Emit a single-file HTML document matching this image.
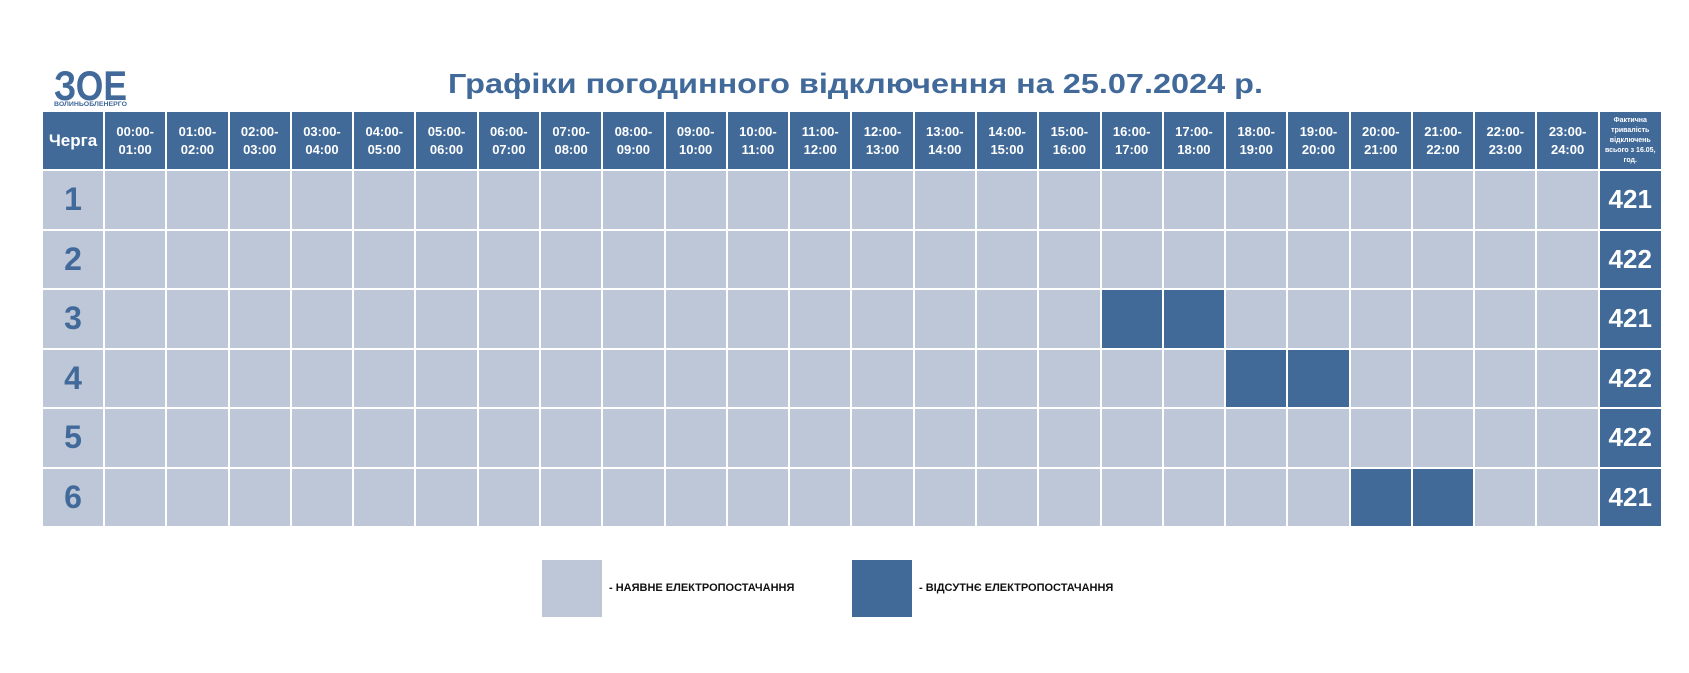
<!DOCTYPE html>
<html><head><meta charset="utf-8">
<style>
html,body{margin:0;padding:0;background:#fff;}
body{width:1689px;height:673px;position:relative;overflow:hidden;font-family:"Liberation Sans","DejaVu Sans",sans-serif;}
.grid{position:absolute;left:43px;top:112px;display:grid;grid-template-columns:60px repeat(24,60.29px) 61px;grid-template-rows:57px repeat(6,57.5px);gap:2px;}
.grid div{background:#bdc7d7;display:flex;align-items:center;justify-content:center;text-align:center;}
.grid .h{background:#416a99;color:#fff;font-weight:bold;font-size:13px;line-height:18px;}
.grid .q{font-size:17px;}
.grid .f{font-size:7px;line-height:10px;}
.grid .n{color:#41699a;font-weight:bold;font-size:32px;}
.grid .d{background:#416a99;}
.grid .t{background:#416a99;color:#fff;font-weight:bold;font-size:26px;}
.lg{position:absolute;top:560px;width:60px;height:57px;}
.lt{position:absolute;top:582px;font-size:11px;font-weight:bold;color:#111;}
</style></head><body>
<svg style="position:absolute;left:0;top:0" width="1689" height="130">
<text x="448" y="93" font-family="Liberation Sans, DejaVu Sans, sans-serif" font-weight="bold" font-size="28" fill="#41699a" textLength="815" lengthAdjust="spacingAndGlyphs">Графіки погодинного відключення на 25.07.2024 р.</text>
<text x="54" y="100" font-family="Liberation Sans, sans-serif" font-weight="bold" font-size="42" fill="#41699a" textLength="73" lengthAdjust="spacingAndGlyphs">ЗОЕ</text>
<text x="54" y="106" font-family="Liberation Sans, sans-serif" font-weight="bold" font-size="6" fill="#41699a" textLength="73" lengthAdjust="spacingAndGlyphs">ВОЛИНЬОБЛЕНЕРГО</text>
</svg>
<div class="grid">
<div class="h q">Черга</div>
<div class="h">00:00-<br>01:00</div><div class="h">01:00-<br>02:00</div><div class="h">02:00-<br>03:00</div><div class="h">03:00-<br>04:00</div><div class="h">04:00-<br>05:00</div><div class="h">05:00-<br>06:00</div><div class="h">06:00-<br>07:00</div><div class="h">07:00-<br>08:00</div><div class="h">08:00-<br>09:00</div><div class="h">09:00-<br>10:00</div><div class="h">10:00-<br>11:00</div><div class="h">11:00-<br>12:00</div><div class="h">12:00-<br>13:00</div><div class="h">13:00-<br>14:00</div><div class="h">14:00-<br>15:00</div><div class="h">15:00-<br>16:00</div><div class="h">16:00-<br>17:00</div><div class="h">17:00-<br>18:00</div><div class="h">18:00-<br>19:00</div><div class="h">19:00-<br>20:00</div><div class="h">20:00-<br>21:00</div><div class="h">21:00-<br>22:00</div><div class="h">22:00-<br>23:00</div><div class="h">23:00-<br>24:00</div>
<div class="h f">Фактична<br>тривалість<br>відключень<br>всього з 16.05,<br>год.</div>

<div class="n">1</div><div></div><div></div><div></div><div></div><div></div><div></div><div></div><div></div><div></div><div></div><div></div><div></div><div></div><div></div><div></div><div></div><div></div><div></div><div></div><div></div><div></div><div></div><div></div><div></div><div class="t">421</div>
<div class="n">2</div><div></div><div></div><div></div><div></div><div></div><div></div><div></div><div></div><div></div><div></div><div></div><div></div><div></div><div></div><div></div><div></div><div></div><div></div><div></div><div></div><div></div><div></div><div></div><div></div><div class="t">422</div>
<div class="n">3</div><div></div><div></div><div></div><div></div><div></div><div></div><div></div><div></div><div></div><div></div><div></div><div></div><div></div><div></div><div></div><div></div><div class="d"></div><div class="d"></div><div></div><div></div><div></div><div></div><div></div><div></div><div class="t">421</div>
<div class="n">4</div><div></div><div></div><div></div><div></div><div></div><div></div><div></div><div></div><div></div><div></div><div></div><div></div><div></div><div></div><div></div><div></div><div></div><div></div><div class="d"></div><div class="d"></div><div></div><div></div><div></div><div></div><div class="t">422</div>
<div class="n">5</div><div></div><div></div><div></div><div></div><div></div><div></div><div></div><div></div><div></div><div></div><div></div><div></div><div></div><div></div><div></div><div></div><div></div><div></div><div></div><div></div><div></div><div></div><div></div><div></div><div class="t">422</div>
<div class="n">6</div><div></div><div></div><div></div><div></div><div></div><div></div><div></div><div></div><div></div><div></div><div></div><div></div><div></div><div></div><div></div><div></div><div></div><div></div><div></div><div></div><div class="d"></div><div class="d"></div><div></div><div></div><div class="t">421</div>
</div>
<div class="lg" style="left:542px;background:#bdc7d7"></div>
<div class="lt" style="left:609px">- НАЯВНЕ ЕЛЕКТРОПОСТАЧАННЯ</div>
<div class="lg" style="left:852px;background:#416a99"></div>
<div class="lt" style="left:919px">- ВІДСУТНЄ ЕЛЕКТРОПОСТАЧАННЯ</div>
</body></html>
